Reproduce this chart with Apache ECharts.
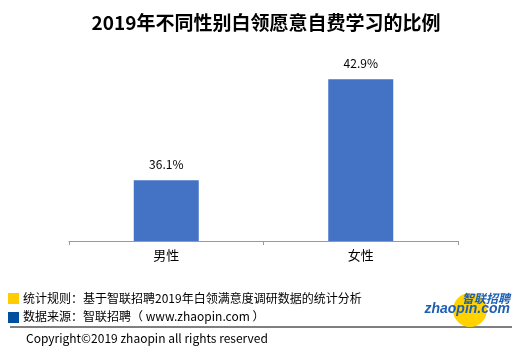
<!DOCTYPE html>
<html>
<head>
<meta charset="utf-8">
<script src="https://cdn.jsdelivr.net/npm/echarts@6/dist/echarts.min.js"></script>
<style>
  html, body { margin: 0; padding: 0; background: #fff; }
  #chart { width: 532px; height: 354px; }
</style>
</head>
<body>
<div id="chart"></div>
<script>
const categories = ["男性", "女性"];
const values = [36.1, 42.9];

const titleText = "2019年不同性别白领愿意自费学习的比例";
const ruleText = "统计规则：基于智联招聘2019年白领满意度调研数据的统计分析";
const sourceText = "数据来源：智联招聘（ www.zhaopin.com ）";
const copyrightText = "Copyright©2019 zhaopin all rights reserved";

const font = "'Noto Sans CJK SC', 'Noto Sans', sans-serif";

const chart = echarts.init(document.getElementById("chart"));

const option = {
  backgroundColor: "#fff",
  animation: false,
  title: {
    text: titleText,
    left: "center",
    top: 8,
    textStyle: { fontSize: 19, fontWeight: "bold", color: "#000", fontFamily: font }
  },
  grid: { left: 69, right: 74, top: 63, bottom: 113 },
  xAxis: {
    type: "category",
    data: categories,
    axisLine: { lineStyle: { color: "#999", width: 1 } },
    axisTick: { show: true, length: 4, lineStyle: { color: "#999" } },
    axisLabel: { fontSize: 13, color: "#000", fontFamily: font, margin: 8 }
  },
  yAxis: {
    type: "value",
    min: 32,
    max: 44,
    show: false,
    splitLine: { show: false }
  },
  series: [
    {
      type: "bar",
      data: values,
      barWidth: 65,
      itemStyle: { color: "#4472C4" },
      label: {
        show: true,
        position: "top",
        distance: 10,
        formatter: (p) => p.value.toFixed(1) + "%",
        fontSize: 12,
        color: "#000",
        fontFamily: font
      }
    }
  ],
  graphic: [
    { type: "rect", shape: { x: 8, y: 293, width: 11, height: 11 }, style: { fill: "#FFCC00" } },
    { type: "text", x: 23, y: 298, style: { text: ruleText, fontSize: 12, fill: "#000", fontFamily: font, verticalAlign: "middle" } },
    { type: "rect", shape: { x: 8, y: 312, width: 11, height: 11 }, style: { fill: "#0050A0" } },
    { type: "text", x: 23, y: 316, style: { text: sourceText, fontSize: 12, fill: "#000", fontFamily: font, verticalAlign: "middle" } },
    { type: "line", shape: { x1: 10, y1: 327, x2: 512, y2: 327 }, style: { stroke: "#000", lineWidth: 1 } },
    { type: "text", x: 26, y: 338, style: { text: copyrightText, fontSize: 12, fill: "#000", fontFamily: font, verticalAlign: "middle" } },
    { type: "circle", shape: { cx: 470, cy: 310, r: 17 }, style: { fill: "#FFD200" } },
    { type: "text", x: 510, y: 298, style: { text: "智联招聘", fontSize: 12, fontWeight: "bold", fontStyle: "italic", fill: "#1E5FB4", fontFamily: font, align: "right", verticalAlign: "middle" } },
    { type: "text", x: 510, y: 309, style: { text: "zhaopin.com", fontSize: 14, fontWeight: "bold", fontStyle: "italic", fill: "#1E5FB4", fontFamily: "'Liberation Sans', Arial, sans-serif", align: "right", verticalAlign: "middle" } }
  ]
};

chart.setOption(option);
</script>
</body>
</html>
